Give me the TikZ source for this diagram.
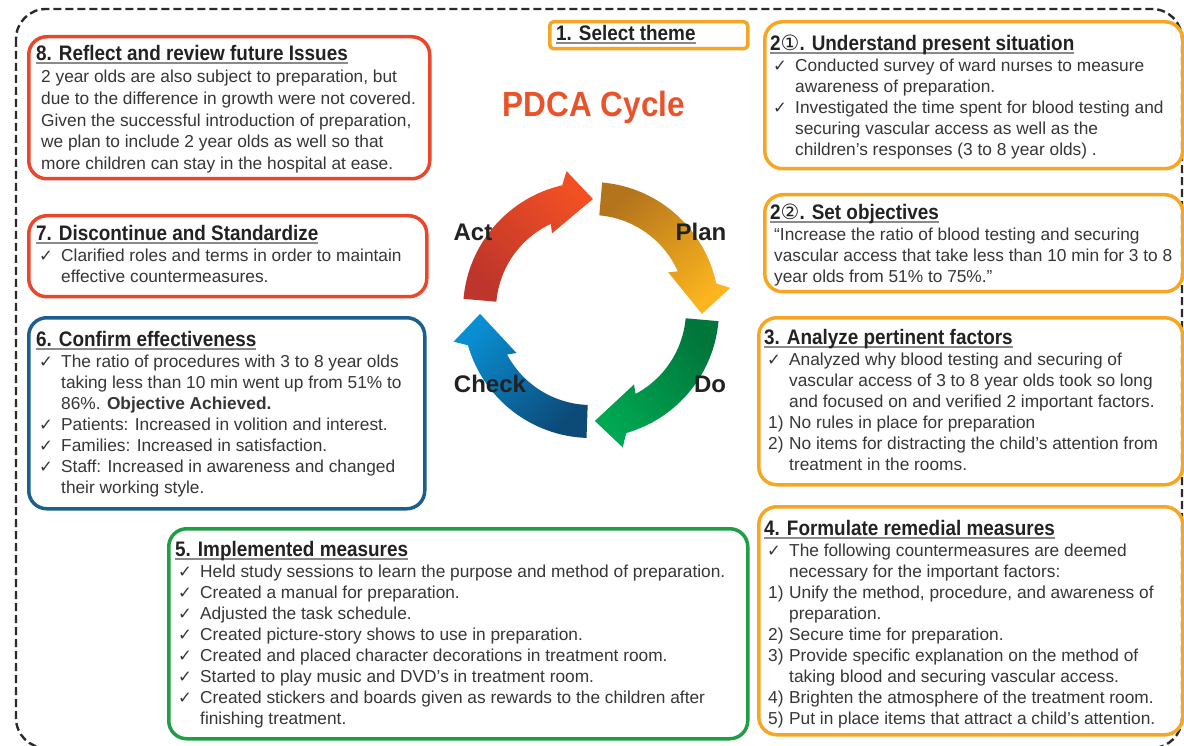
\documentclass[tikz,border=0pt]{standalone}
\usepackage{fontspec}
\setmainfont{Liberation Sans}
\newfontfamily\hdfont[FakeStretch=0.9]{Liberation Sans}
\newfontfamily\djv{DejaVu Sans}
\definecolor{cOr}{HTML}{F6A623}
\definecolor{cRd}{HTML}{E8472B}
\definecolor{cBl}{HTML}{1C5F8E}
\definecolor{cGr}{HTML}{1F9E46}
\definecolor{cTitle}{HTML}{E9532A}
\definecolor{cTxt}{HTML}{363636}
\definecolor{cHd}{HTML}{222222}
\definecolor{cUl}{HTML}{8A8A8A}
\definecolor{cFrame}{HTML}{2A2A2A}
\definecolor{aOrD}{HTML}{B3741C}
\definecolor{aOrB}{HTML}{FCB51E}
\definecolor{aGrD}{HTML}{00763B}
\definecolor{aGrB}{HTML}{00A852}
\definecolor{aBlD}{HTML}{0C4A77}
\definecolor{aBlB}{HTML}{0A8ED2}
\definecolor{aRdD}{HTML}{BE352B}
\definecolor{aRdB}{HTML}{F25023}
\newlength\hdw
\newcommand\hdtxt[1]{{\hdfont\bfseries\fontsize{21}{21}\selectfont\color{cHd}#1}}
\newcommand\hd[1]{\rule{0pt}{16pt}\settowidth\hdw{\hdtxt{#1}}\rlap{\color{cUl}\rule[-3pt]{\hdw}{1.6pt}}\hdtxt{#1}}
\newcommand\ck{\hspace*{3pt}\makebox[22pt][l]{\djv\fontsize{16.5}{21}\selectfont ✓}}
\newcommand\nm[1]{\hspace*{4pt}\makebox[21pt][l]{#1}}
\newcommand\ind{\hspace*{25pt}}
\newcommand\pdcaarrow[5]{%
  \shade[bottom color=#3, top color=#4, shading angle=#5]
    (#1:128) arc[start angle=#1, end angle={#2+14}, radius=128]
    -- ({#2+11}:141) -- (#2:111) -- ({#2+28}:86) -- ({#2+26}:95)
    arc[start angle={#2+26}, end angle=#1, radius=95] -- cycle;}
\begin{document}
\begin{tikzpicture}[x=1pt,y=-1pt,
  box/.style={draw, line width=3.5pt, rounded corners=18pt, anchor=north west, inner sep=0pt},
  orbox/.style={box, draw=cOr},
  rdbox/.style={box, draw=cRd},
  blbox/.style={box, draw=cBl},
  grbox/.style={box, draw=cGr},
  txt/.style={anchor=north west, inner sep=0pt, align=left, text=cTxt, font=\fontsize{17.3}{21}\selectfont},
  cyc/.style={font=\bfseries\fontsize{24}{24}\selectfont, text=cHd, inner sep=0pt},
  frame/.style={draw=cFrame, line width=2.4pt, dash pattern=on 8pt off 4pt, rounded corners=30pt}]
\useasboundingbox (0,0) rectangle (1184,746);
\fill[white] (0,0) rectangle (1184,746);
% outer dashed frame
\draw[frame] (16,9) rectangle (1182,748);
% boxes
\node[rdbox, minimum width=401pt, minimum height=142pt] (b8) at (27,35) {};
\node[orbox, rounded corners=4pt, minimum width=198pt, minimum height=27pt] (b1) at (548,20) {};
\node[orbox, minimum width=418pt, minimum height=147pt] (b21) at (763,20) {};
\node[orbox, minimum width=418pt, minimum height=97pt] (b22) at (763,193) {};
\node[rdbox, minimum width=398pt, minimum height=81pt] (b7) at (27,214) {};
\node[blbox, minimum width=396pt, minimum height=191pt] (b6) at (27,316) {};
\node[orbox, minimum width=424pt, minimum height=167pt] (b3) at (757,316) {};
\node[grbox, minimum width=579pt, minimum height=210pt] (b5) at (167,527) {};
\node[orbox, minimum width=424pt, minimum height=228pt] (b4) at (757,505) {};
% texts
\node[txt, font=\fontsize{17.3}{21.8}\selectfont] (t8) at (36,44.5) {\hd{8. Reflect and review future Issues}\\
\hspace*{5pt}2 year olds are also subject to preparation, but\\
\hspace*{5pt}due to the difference in growth were not covered.\\
\hspace*{5pt}Given the successful introduction of preparation,\\
\hspace*{5pt}we plan to include 2 year olds as well so that\\
\hspace*{5pt}more children can stay in the hospital at ease.};
\node[txt] (t1) at (556,24.5) {\hd{1. Select theme}};
\node[txt] (t21) at (770,34.5) {\hd{2{\djv\mdseries ①}. Understand present situation}\\
\ck Conducted survey of ward nurses to measure\\
\ind awareness of preparation.\\
\ck Investigated the time spent for blood testing and\\
\ind securing vascular access as well as the\\
\ind children’s responses (3 to 8 year olds) .};
\node[txt] (t22) at (770,203.5) {\hd{2{\djv\mdseries ②}. Set objectives}\\
\hspace*{4pt}“Increase the ratio of blood testing and securing\\
\hspace*{4pt}vascular access that take less than 10 min for 3 to 8\\
\hspace*{4pt}year olds from 51\% to 75\%.”};
\node[txt] (t7) at (36,224.5) {\hd{7. Discontinue and Standardize}\\
\ck Clarified roles and terms in order to maintain\\
\ind effective countermeasures.};
\node[txt] (t6) at (36,330.5) {\hd{6. Confirm effectiveness}\\
\ck The ratio of procedures with 3 to 8 year olds\\
\ind taking less than 10 min went up from 51\% to\\
\ind 86\%. \textbf{Objective Achieved.}\\
\ck Patients: Increased in volition and interest.\\
\ck Families: Increased in satisfaction.\\
\ck Staff: Increased in awareness and changed\\
\ind their working style.};
\node[txt] (t3) at (764,328.5) {\hd{3. Analyze pertinent factors}\\
\ck Analyzed why blood testing and securing of\\
\ind vascular access of 3 to 8 year olds took so long\\
\ind and focused on and verified 2 important factors.\\
\nm{1)}No rules in place for preparation\\
\nm{2)}No items for distracting the child’s attention from\\
\ind treatment in the rooms.};
\node[txt] (t4) at (764,519.5) {\hd{4. Formulate remedial measures}\\
\ck The following countermeasures are deemed\\
\ind necessary for the important factors:\\
\nm{1)}Unify the method, procedure, and awareness of\\
\ind preparation.\\
\nm{2)}Secure time for preparation.\\
\nm{3)}Provide specific explanation on the method of\\
\ind taking blood and securing vascular access.\\
\nm{4)}Brighten the atmosphere of the treatment room.\\
\nm{5)}Put in place items that attract a child’s attention.};
\node[txt] (t5) at (175,540.5) {\hd{5. Implemented measures}\\
\ck Held study sessions to learn the purpose and method of preparation.\\
\ck Created a manual for preparation.\\
\ck Adjusted the task schedule.\\
\ck Created picture-story shows to use in preparation.\\
\ck Created and placed character decorations in treatment room.\\
\ck Started to play music and DVD’s in treatment room.\\
\ck Created stickers and boards given as rewards to the children after\\
\ind finishing treatment.};
% title
\node[inner sep=0pt, text=cTitle, font=\hdfont\bfseries\fontsize{35}{35}\selectfont] (title) at (594,107) {PDCA Cycle};
% cycle arrows
\begin{scope}[shift={(591,310)}, yscale=-1]
\pdcaarrow{85}{-2}{aOrD}{aOrB}{-138}
\pdcaarrow{-5}{-88}{aGrD}{aGrB}{132}
\pdcaarrow{-92}{-178}{aBlD}{aBlB}{46}
\pdcaarrow{175}{89}{aRdD}{aRdB}{-45}
\end{scope}
\node[cyc] (act) at (473,232) {Act};
\node[cyc] (plan) at (701,232) {Plan};
\node[cyc] (check) at (490,384) {Check};
\node[cyc] (do) at (710,384) {Do};
\end{tikzpicture}
\end{document}
